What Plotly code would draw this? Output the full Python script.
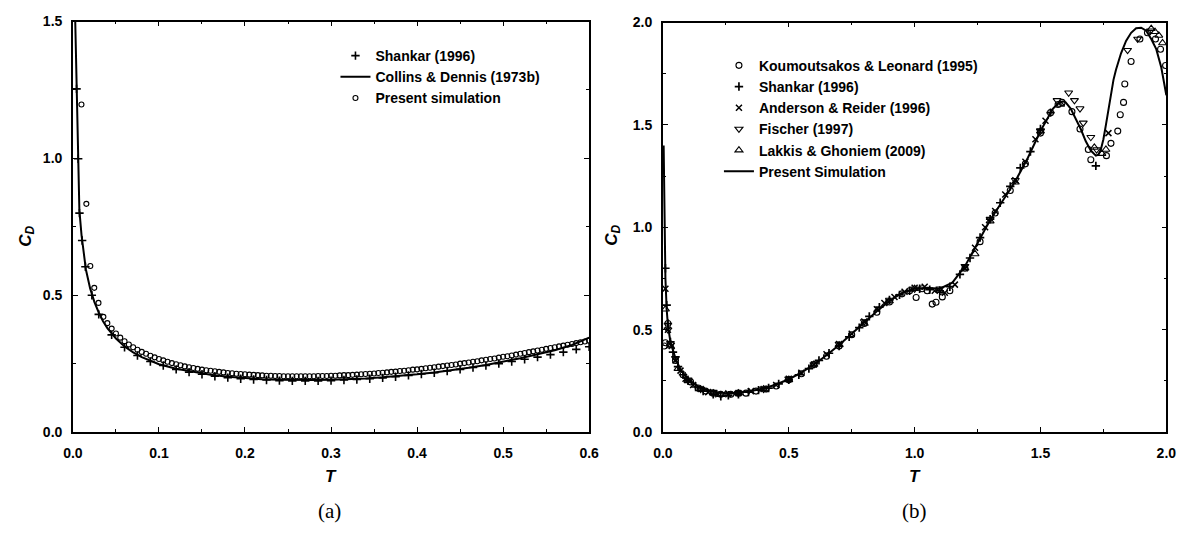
import plotly.graph_objects as go

# ---------------- Panel (a) data ----------------
cd_line_t = [0.002, 0.003, 0.004, 0.005, 0.006, 0.0075, 0.01, 0.0125, 0.015, 0.02, 0.025, 0.03,
             0.035, 0.04, 0.05, 0.06, 0.07, 0.08, 0.09, 0.1, 0.12, 0.14, 0.16, 0.18, 0.2, 0.22,
             0.24, 0.26, 0.28, 0.3, 0.32, 0.34, 0.36, 0.38, 0.4, 0.42, 0.44, 0.46, 0.48, 0.5,
             0.52, 0.54, 0.56, 0.58, 0.6]
cd_line_v = [1.60, 1.45, 1.28, 1.13, 1.00, 0.81, 0.72, 0.65, 0.595, 0.525, 0.475, 0.437,
             0.405, 0.38, 0.342, 0.313, 0.291, 0.274, 0.26, 0.248, 0.231, 0.219, 0.209, 0.202, 0.197, 0.193,
             0.191, 0.19, 0.19, 0.191, 0.193, 0.196, 0.2, 0.205, 0.211, 0.218, 0.226, 0.235, 0.245, 0.257,
             0.27, 0.284, 0.299, 0.318, 0.345]

shankar_a_t = [0.0042, 0.0061, 0.0076, 0.0107, 0.0145, 0.022, 0.03, 0.045, 0.06, 0.075, 0.09, 0.105,
               0.12, 0.135, 0.15, 0.165, 0.18, 0.195, 0.21, 0.225, 0.24, 0.255, 0.27, 0.285, 0.3,
               0.315, 0.33, 0.345, 0.36, 0.375, 0.39, 0.405, 0.42, 0.435, 0.45, 0.465, 0.48, 0.495,
               0.51, 0.525, 0.54, 0.555, 0.57, 0.585, 0.6]
shankar_a_v = [1.254, 0.999, 0.80, 0.70, 0.604, 0.50, 0.43, 0.355, 0.31, 0.28, 0.258, 0.243,
               0.229, 0.219, 0.211, 0.204, 0.199, 0.195, 0.192, 0.19, 0.188, 0.187, 0.187, 0.187, 0.188,
               0.19, 0.192, 0.195, 0.198, 0.202, 0.207, 0.212, 0.217, 0.223, 0.229, 0.236, 0.243, 0.25,
               0.258, 0.266, 0.274, 0.283, 0.292, 0.302, 0.312]

present_a_t = [0.0099, 0.0156, 0.0202, 0.0248, 0.0297, 0.0354,
               0.040, 0.045, 0.050, 0.055, 0.060, 0.065, 0.070, 0.075, 0.080, 0.085, 0.090, 0.095,
               0.100, 0.105, 0.110, 0.115, 0.120, 0.125, 0.130, 0.135, 0.140, 0.145, 0.150, 0.155,
               0.160, 0.165, 0.170, 0.175, 0.180, 0.185, 0.190, 0.195, 0.200, 0.205, 0.210, 0.215,
               0.220, 0.225, 0.230, 0.235, 0.240, 0.245, 0.250, 0.255, 0.260, 0.265, 0.270, 0.275,
               0.280, 0.285, 0.290, 0.295, 0.300, 0.305, 0.310, 0.315, 0.320, 0.325, 0.330, 0.335,
               0.340, 0.345, 0.350, 0.355, 0.360, 0.365, 0.370, 0.375, 0.380, 0.385, 0.390, 0.395,
               0.400, 0.405, 0.410, 0.415, 0.420, 0.425, 0.430, 0.435, 0.440, 0.445, 0.450, 0.455,
               0.460, 0.465, 0.470, 0.475, 0.480, 0.485, 0.490, 0.495, 0.500, 0.505, 0.510, 0.515,
               0.520, 0.525, 0.530, 0.535, 0.540, 0.545, 0.550, 0.555, 0.560, 0.565, 0.570, 0.575,
               0.580, 0.585, 0.590, 0.595, 0.600]
present_a_v = [1.197, 0.834, 0.607, 0.527, 0.472, 0.421,
               0.398, 0.378, 0.360, 0.345, 0.332, 0.320, 0.310, 0.301, 0.293, 0.286, 0.279, 0.273,
               0.267, 0.262, 0.257, 0.252, 0.248, 0.244, 0.240, 0.237, 0.234, 0.231, 0.228, 0.226,
               0.224, 0.222, 0.220, 0.218, 0.216, 0.215, 0.213, 0.212, 0.211, 0.210, 0.209, 0.208,
               0.207, 0.206, 0.206, 0.205, 0.205, 0.204, 0.204, 0.204, 0.204, 0.204, 0.204, 0.204,
               0.204, 0.205, 0.205, 0.205, 0.206, 0.206, 0.207, 0.208, 0.208, 0.209, 0.210, 0.211,
               0.212, 0.213, 0.214, 0.216, 0.217, 0.218, 0.220, 0.221, 0.223, 0.224, 0.226, 0.228,
               0.229, 0.231, 0.233, 0.235, 0.237, 0.239, 0.241, 0.243, 0.245, 0.247, 0.250, 0.252,
               0.254, 0.257, 0.259, 0.262, 0.264, 0.267, 0.269, 0.272, 0.275, 0.277, 0.280, 0.283,
               0.286, 0.289, 0.292, 0.295, 0.298, 0.301, 0.304, 0.307, 0.310, 0.313, 0.316, 0.319,
               0.322, 0.325, 0.328, 0.331, 0.334]

# ---------------- Panel (b) data ----------------
sim_b_t = [0.003, 0.006, 0.01, 0.015, 0.02, 0.03, 0.04, 0.05, 0.07, 0.1, 0.15, 0.2, 0.25, 0.3,
           0.35, 0.4, 0.45, 0.5, 0.55, 0.6, 0.65, 0.7, 0.75, 0.8, 0.85, 0.9, 0.95, 1.0, 1.05,
           1.1, 1.15, 1.2, 1.25, 1.3, 1.35, 1.4, 1.45, 1.5, 1.55, 1.57, 1.59, 1.6, 1.62, 1.64,
           1.66, 1.68, 1.7, 1.72, 1.73, 1.74, 1.75, 1.76, 1.77, 1.78, 1.79, 1.8, 1.81, 1.82,
           1.84, 1.86, 1.88, 1.9, 1.92, 1.94, 1.96, 1.98, 2.0]
sim_b_v = [1.40, 1.00, 0.75, 0.60, 0.52, 0.44, 0.395, 0.36, 0.305, 0.258, 0.215, 0.197, 0.19, 0.192,
           0.2, 0.213, 0.232, 0.258, 0.29, 0.33, 0.375, 0.425, 0.48, 0.535, 0.59, 0.64, 0.68, 0.70, 0.705,
           0.70, 0.73, 0.81, 0.92, 1.035, 1.13, 1.225, 1.34, 1.47, 1.58, 1.605, 1.615, 1.61, 1.58, 1.53,
           1.48, 1.42, 1.375, 1.35, 1.355, 1.38, 1.43, 1.50, 1.58, 1.65, 1.72, 1.77, 1.81, 1.85,
           1.91, 1.95, 1.972, 1.975, 1.96, 1.92, 1.87, 1.78, 1.645]

koum_t = [0.005, 0.01, 0.02, 0.03, 0.05, 0.08, 0.11, 0.14, 0.17, 0.2, 0.23, 0.27, 0.3, 0.33, 0.37,
          0.41, 0.45, 0.5, 0.55, 0.6, 0.65, 0.7, 0.75, 0.8, 0.85, 0.9, 0.95, 0.98, 1.006, 1.03, 1.05,
          1.07, 1.085, 1.11, 1.14, 1.2, 1.26, 1.32, 1.38, 1.44, 1.5, 1.54, 1.57, 1.586, 1.625, 1.657,
          1.69, 1.70, 1.762, 1.78, 1.807, 1.817, 1.83, 1.835, 1.86, 1.895, 1.925, 1.957, 1.977, 1.997]
koum_v = [0.42, 0.436, 0.53, 0.43, 0.35, 0.28, 0.245, 0.215, 0.2, 0.19, 0.185, 0.185, 0.19, 0.19, 0.2,
          0.21, 0.225, 0.255, 0.285, 0.33, 0.37, 0.42, 0.475, 0.53, 0.585, 0.635, 0.675, 0.69, 0.657, 0.70, 0.69,
          0.625, 0.634, 0.66, 0.69, 0.80, 0.93, 1.07, 1.18, 1.31, 1.46, 1.56, 1.60, 1.61, 1.565, 1.48,
          1.38, 1.33, 1.35, 1.41, 1.47, 1.55, 1.61, 1.70, 1.81, 1.92, 1.95, 1.92, 1.87, 1.79]

shankar_b_t = [0.01, 0.015, 0.02, 0.03, 0.04, 0.06, 0.08, 0.1, 0.13, 0.16, 0.2, 0.23, 0.26, 0.3, 0.34,
               0.38, 0.42, 0.46, 0.5, 0.54, 0.58, 0.62, 0.66, 0.7, 0.74, 0.78, 0.82, 0.86, 0.9, 0.94,
               0.98, 1.02, 1.06, 1.1, 1.14, 1.18, 1.22, 1.26, 1.3, 1.34, 1.38, 1.42, 1.46, 1.5, 1.54, 1.72]
shankar_b_v = [0.80, 0.62, 0.53, 0.44, 0.39, 0.32, 0.28, 0.25, 0.22, 0.2, 0.185, 0.175, 0.18, 0.185, 0.195,
               0.205, 0.215, 0.235, 0.255, 0.28, 0.31, 0.35, 0.385, 0.42, 0.465, 0.51, 0.565, 0.61, 0.645, 0.67,
               0.69, 0.70, 0.695, 0.69, 0.71, 0.77, 0.85, 0.95, 1.04, 1.12, 1.20, 1.29, 1.37, 1.48, 1.56, 1.30]

anderson_t = [0.01, 0.02, 0.035, 0.05, 0.07, 0.09, 0.12, 0.15, 0.18, 0.22, 0.26, 0.3, 0.35, 0.4, 0.45,
              0.5, 0.55, 0.6, 0.65, 0.7, 0.75, 0.8, 0.85, 0.88, 0.92, 0.96, 1.0, 1.04, 1.08, 1.12, 1.16,
              1.2, 1.24, 1.28, 1.32, 1.36, 1.4, 1.44, 1.48, 1.52, 1.77]
anderson_v = [0.70, 0.50, 0.42, 0.35, 0.30, 0.26, 0.23, 0.21, 0.195, 0.185, 0.185, 0.19, 0.2, 0.21, 0.23,
              0.26, 0.29, 0.33, 0.38, 0.43, 0.48, 0.54, 0.60, 0.63, 0.66, 0.685, 0.705, 0.71, 0.69, 0.68, 0.72,
              0.80, 0.90, 1.00, 1.08, 1.16, 1.23, 1.32, 1.43, 1.52, 1.46]

fischer_t = [0.02, 0.05, 0.1, 0.15, 0.2, 0.3, 0.4, 0.5, 0.6, 0.7, 0.8, 0.9, 1.0, 1.1, 1.2, 1.3, 1.4,
             1.5, 1.566, 1.612, 1.635, 1.657, 1.67, 1.70, 1.723, 1.846, 1.886, 1.937]
fischer_v = [0.50, 0.36, 0.255, 0.21, 0.195, 0.19, 0.21, 0.26, 0.33, 0.43, 0.54, 0.645, 0.70, 0.70, 0.81,
             1.04, 1.23, 1.47, 1.62, 1.657, 1.62, 1.58, 1.51, 1.44, 1.38, 1.865, 1.92, 1.96]

lakkis_t = [0.01, 0.03, 0.06, 0.1, 0.15, 0.2, 0.25, 0.3, 0.4, 0.5, 0.6, 0.7, 0.8, 0.9, 1.0, 1.1, 1.2,
            1.24, 1.3, 1.4, 1.5, 1.58, 1.714, 1.744, 1.76, 1.94, 1.955, 1.97, 1.985]
lakkis_v = [0.60, 0.42, 0.31, 0.25, 0.21, 0.19, 0.185, 0.19, 0.21, 0.255, 0.33, 0.425, 0.53, 0.64, 0.70,
            0.69, 0.80, 0.87, 1.03, 1.22, 1.47, 1.60, 1.39, 1.36, 1.38, 1.97, 1.955, 1.937, 1.90]

SANS = "Arial, Liberation Sans, sans-serif"
SERIF = "Times New Roman, Liberation Serif, serif"
tick_font = dict(family=SANS, size=14, color="black", weight="bold")
leg_font = dict(family=SANS, size=14, color="black", weight="bold")

fig = go.Figure()

def mk(sym, size=5, lw=1):
    return dict(symbol=sym, size=size, color="black", line=dict(color="black", width=lw))

# Panel (a)
fig.add_trace(go.Scatter(x=shankar_a_t, y=shankar_a_v, mode="markers", name="Shankar (1996)",
                         marker=mk("cross-thin-open", 6, 1.6), xaxis="x", yaxis="y", legend="legend"))
fig.add_trace(go.Scatter(x=cd_line_t, y=cd_line_v, mode="lines", name="Collins & Dennis (1973b)",
                         line=dict(color="black", width=2), xaxis="x", yaxis="y", legend="legend"))
fig.add_trace(go.Scatter(x=present_a_t, y=present_a_v, mode="markers", name="Present simulation",
                         marker=mk("circle-open", 5, 1.1), xaxis="x", yaxis="y", legend="legend"))

# Panel (b)
fig.add_trace(go.Scatter(x=koum_t, y=koum_v, mode="markers", name="Koumoutsakos & Leonard (1995)",
                         marker=mk("circle-open", 6, 1.1), xaxis="x2", yaxis="y2", legend="legend2"))
fig.add_trace(go.Scatter(x=shankar_b_t, y=shankar_b_v, mode="markers", name="Shankar (1996)",
                         marker=mk("cross-thin-open", 6, 1.7), xaxis="x2", yaxis="y2", legend="legend2"))
fig.add_trace(go.Scatter(x=anderson_t, y=anderson_v, mode="markers", name="Anderson & Reider (1996)",
                         marker=mk("x-thin-open", 6, 1.5), xaxis="x2", yaxis="y2", legend="legend2"))
fig.add_trace(go.Scatter(x=fischer_t, y=fischer_v, mode="markers", name="Fischer (1997)",
                         marker=mk("triangle-down-open", 7, 1.1), xaxis="x2", yaxis="y2", legend="legend2"))
fig.add_trace(go.Scatter(x=lakkis_t, y=lakkis_v, mode="markers", name="Lakkis & Ghoniem (2009)",
                         marker=mk("triangle-up-open", 7, 1.1), xaxis="x2", yaxis="y2", legend="legend2"))
fig.add_trace(go.Scatter(x=sim_b_t, y=sim_b_v, mode="lines", name="Present Simulation",
                         line=dict(color="black", width=2), xaxis="x2", yaxis="y2", legend="legend2"))

W, H = 1196, 540

def ax(domain, rng, dtick, minor, anchor, standoff):
    return dict(domain=domain, range=rng, dtick=dtick, tick0=0, tickformat=".1f",
                showline=True, linecolor="black", linewidth=1.6, mirror="ticks",
                ticks="inside", ticklen=5, tickwidth=1.3, tickcolor="black",
                minor=dict(dtick=minor, ticks="inside", ticklen=3, tickwidth=1, tickcolor="black"),
                showgrid=False, zeroline=False, tickfont=tick_font, anchor=anchor,
                ticklabelstandoff=standoff, fixedrange=True)

fig.update_layout(
    width=W, height=H, margin=dict(l=0, r=0, t=0, b=0),
    paper_bgcolor="white", plot_bgcolor="white",
    xaxis=ax([64 / W, 589 / W], [0, 0.6], 0.1, 0.05, "y", 7),
    yaxis=ax([1 - 437 / H, 1 - 14 / H], [0, 1.5], 0.5, 0.25, "x", 6),
    xaxis2=ax([664 / W, 1176 / W], [0, 2.0], 0.5, 0.25, "y2", 7),
    yaxis2=ax([1 - 437 / H, 1 - 15 / H], [0, 2.0], 0.5, 0.25, "x2", 6),
    legend=dict(x=331 / W, y=1 - 33 / H, xanchor="left", yanchor="top", font=leg_font,
                bgcolor="rgba(0,0,0,0)", borderwidth=0, tracegroupgap=0, itemwidth=30),
    legend2=dict(x=721 / W, y=1 - 43 / H, xanchor="left", yanchor="top", font=leg_font,
                 bgcolor="rgba(0,0,0,0)", borderwidth=0, tracegroupgap=0, itemwidth=30),
    showlegend=True,
)

ann_font = dict(family=SANS, size=17, color="black", weight="bold")

def note(text, px, py, font, angle=0):
    return dict(text=text, x=px / W, y=1 - py / H, xref="paper", yref="paper", showarrow=False,
                xanchor="center", yanchor="middle", textangle=angle, font=font)

serif_font = dict(family=SERIF, size=21, color="black")
annots = [
    note("<i>T</i>", 326, 483, ann_font),
    note("<i>T</i>", 920, 483, ann_font),
    note("<i>C</i><sub><i>D</i></sub>", 17, 235, ann_font, -90),
    note("<i>C</i><sub><i>D</i></sub>", 613, 234, ann_font, -90),
    note("(a)", 325, 518, serif_font),
    note("(b)", 920, 518, serif_font),
]
fig.update_layout(annotations=annots)

fig.write_html("out.html")
